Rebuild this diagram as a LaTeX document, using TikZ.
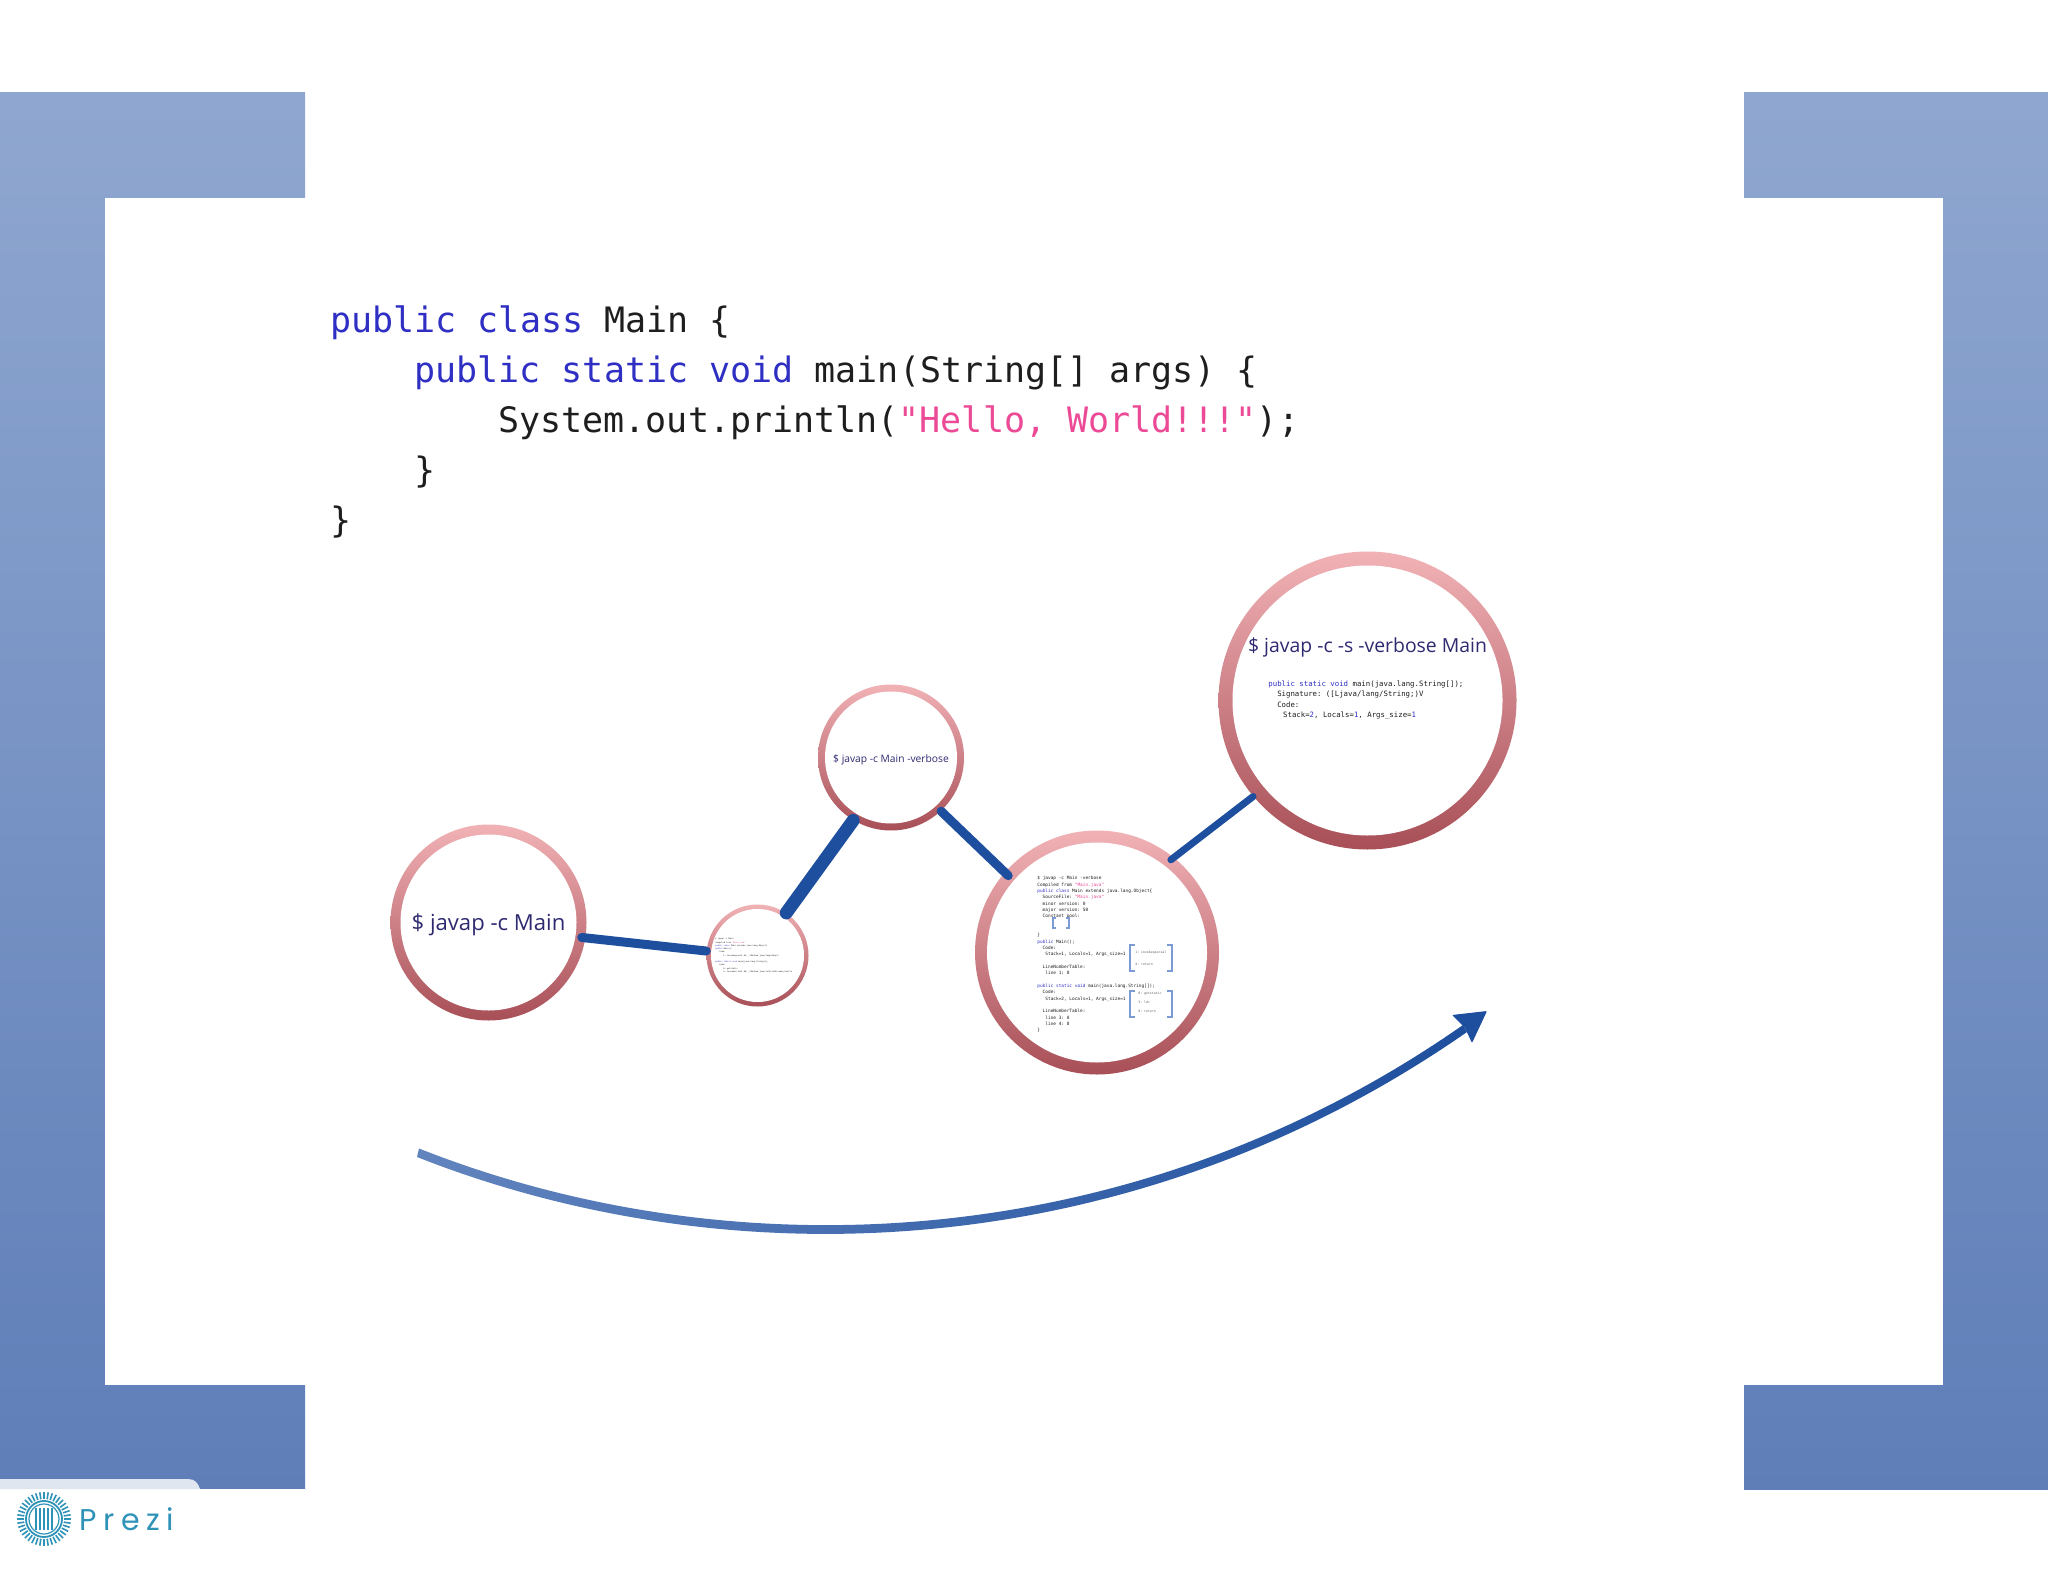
\documentclass[tikz,border=0pt]{standalone}
\usepackage{fontspec}
\setmainfont{Open Sans}
\setmonofont{DejaVu Sans Mono}
\newfontfamily\prezifont[LetterSpace=22]{Poppins}
\usetikzlibrary{calc}
\definecolor{kw}{HTML}{2F2FC4}
\definecolor{strpink}{HTML}{EC4A96}
\definecolor{cblack}{HTML}{1E1E1E}
\definecolor{title}{HTML}{2E2A70}
\definecolor{lnk}{HTML}{1E4F9E}
\definecolor{bracket}{HTML}{7B9BD5}
\definecolor{teal}{HTML}{2F92B8}
\definecolor{bandtop}{HTML}{8FA7D0}
\definecolor{bandbot}{HTML}{5F7EB8}
\definecolor{ringtop}{HTML}{F1B2B6}
\definecolor{ringbot}{HTML}{A84F57}
\definecolor{arrowstart}{HTML}{6284BE}
\definecolor{tabgrey}{HTML}{E0E6EF}
\newcommand{\ind}[1]{\hspace*{#1em}}
\newcommand{\kw}[1]{\textcolor{kw}{#1}}
\newcommand{\st}[1]{\textcolor{strpink}{#1}}
\tikzset{
  x=0.5pt,y=-0.5pt,
  band/.style={shade,top color=bandtop,bottom color=bandbot,draw=none},
  ringouter/.style={circle,inner sep=0pt,draw=none,shade,top color=ringtop,bottom color=ringbot},
  ringinner/.style={circle,inner sep=0pt,fill=white,draw=none},
  codeline/.style={anchor=base west,inner sep=0pt,text=cblack,font=\ttfamily\fontsize{17.5}{25}\selectfont},
  ctitle/.style={inner sep=0pt,text=title},
  tinycode/.style={anchor=north west,inner sep=0pt,align=left,text=cblack},
  link/.style={draw=lnk,line cap=round},
  brk/.style={draw=bracket,line width=1.2pt},
  tick/.style={draw=teal,line width=0.8pt},
  logoring/.style={draw=teal,line width=0.6pt}
}
\begin{document}
\begin{tikzpicture}
\useasboundingbox (0,0) rectangle (2048,1582);
\fill[white] (0,0) rectangle (2048,1582);
% frame
\path[band] (0,93) rectangle (305,1489);
\path[band] (1744,93) rectangle (2048,1489);
\fill[white] (105,198) rectangle (1943,1385);
% tab and logo
\fill[white] (0,1489) rectangle (305,1582);
\fill[tabgrey] (0,1479) -- (188,1479) .. controls (195,1479) and (198,1483) .. (200,1489) -- (0,1489) -- cycle;
\coordinate (logo) at (44,1519);
\foreach \a in {0,9,...,351} \draw[tick] ($(logo)+(\a:20)$) -- ($(logo)+(\a:27)$);
\draw[logoring,line width=0.9pt] (logo) circle[radius=18];
\draw[logoring] (logo) circle[radius=15];
\foreach \d in {-8,-4,0,4,8} \draw[logoring] ($(logo)+(\d,-11)$) -- ($(logo)+(\d,11)$);
\node[anchor=base west,inner sep=0pt,text=teal,font=\prezifont\fontsize{15}{18}\selectfont] (prezi) at (79,1530) {Prezi};
% code
\node[codeline] (l1) at (330,333) {\kw{public class} Main \{};
\node[codeline] (l2) at (414,383) {\kw{public static void} main(String[] args) \{};
\node[codeline] (l3) at (498,433) {System.out.println(\st{"Hello, World!!!"});};
\node[codeline] (l4) at (414,483) {\}};
\node[codeline] (l5) at (330,533) {\}};
% circles
\node[ringouter,minimum size=98pt] (c1o) at (488.5,922.5) {};
\node[ringinner,minimum size=88pt] (c1) at (488.5,922.5) {};
\node[ringouter,minimum size=51pt] (c2o) at (757.5,955.5) {};
\node[ringinner,minimum size=46.5pt] (c2) at (757.5,955.5) {};
\node[ringouter,minimum size=73pt] (c3o) at (891,757.5) {};
\node[ringinner,minimum size=66pt] (c3) at (891,757.5) {};
\node[ringouter,minimum size=122pt] (c4o) at (1097,952.5) {};
\node[ringinner,minimum size=110pt] (c4) at (1097,952.5) {};
\node[ringouter,minimum size=149pt] (c5o) at (1367.5,700.5) {};
\node[ringinner,minimum size=135pt] (c5) at (1367.5,700.5) {};
% connectors
\draw[link,line width=4.5pt,shorten <=-2pt] (c1o.-9) -- (c2o.175);
\draw[link,line width=6.5pt] (c2o.56) -- (c3o.-121);
\draw[link,line width=4.5pt,shorten >=-2.5pt] (c3o.-47) -- (c4o.139.6);
\draw[link,line width=3.5pt,shorten <=-2pt] (c4o.51) -- (c5o.-140);
% titles
\node[ctitle,font=\fontsize{11.05}{13}\selectfont] (t1) at (488.5,925) {\$ javap -c Main};
\node[ctitle,font=\fontsize{5.13}{7}\selectfont] (t3) at (891,760) {\$ javap -c Main -verbose};
\node[ctitle,font=\fontsize{9.7}{12}\selectfont] (t5) at (1367.5,647) {\$ javap -c -s -verbose Main};
% c5 code
\node[tinycode,font=\ttfamily\fontsize{3.68}{5.3}\selectfont] (t5code) at (1268,680) {%
\kw{public static void} main(java.lang.String[]);\\
\ind{1.2}Signature: ([Ljava/lang/String;)V\\
\ind{1.2}Code:\\
\ind{2}Stack=\kw{2}, Locals=\kw{1}, Args\_size=\kw{1}};
% c4 code
\node[tinycode,font=\ttfamily\fontsize{2.22}{3.17}\selectfont] (t4code) at (1037,876) {%
\$ javap -c Main -verbose\\
Compiled from \st{"Main.java"}\\
\kw{public class} Main extends java.lang.Object\{\\
\ind{1.2}SourceFile: \st{"Main.java"}\\
\ind{1.2}minor version: 0\\
\ind{1.2}major version: 50\\
\ind{1.2}Constant pool:\\
\strut\\
\strut\\
\}\\
\kw{public} Main();\\
\ind{1.2}Code:\\
\ind{1.8}Stack=1, Locals=1, Args\_size=1\\
\strut\\
\ind{1.2}LineNumberTable:\\
\ind{1.8}line 1: 0\\
\strut\\
\kw{public static void} main(java.lang.String[]);\\
\ind{1.2}Code:\\
\ind{1.8}Stack=2, Locals=1, Args\_size=1\\
\strut\\
\ind{1.2}LineNumberTable:\\
\ind{1.8}line 3: 0\\
\ind{1.8}line 4: 8\\
\}};
\node[tinycode,text=cblack!70,font=\ttfamily\fontsize{1.6}{6}\selectfont] (t4b1) at (1135,951) {1: invokespecial\\4: return};
\node[tinycode,text=cblack!70,font=\ttfamily\fontsize{1.6}{4.3}\selectfont] (t4b2) at (1138,992) {0: getstatic\\3: ldc\\8: return};
\draw[brk,line width=0.6pt] (1056,918) -- (1053,918) -- (1053,928) -- (1056,928);
\draw[brk,line width=0.6pt] (1066,918) -- (1069,918) -- (1069,928) -- (1066,928);
\draw[brk] (1135,945) -- (1130,945) -- (1130,971) -- (1135,971);
\draw[brk] (1167,945) -- (1172,945) -- (1172,971) -- (1167,971);
\draw[brk] (1135,991) -- (1130,991) -- (1130,1017) -- (1135,1017);
\draw[brk] (1167,991) -- (1172,991) -- (1172,1017) -- (1167,1017);
% c2 code
\node[tinycode,font=\ttfamily\fontsize{1}{1.62}\selectfont] (t2code) at (715,938) {%
\$ javap -c Main\\
Compiled from \st{"Main.java"}\\
\kw{public class} Main extends java.lang.Object\{\\
\kw{public} Main();\\
\ind{2}Code:\\
\ind{4}1: invokespecial \#1; //Method java/lang/Object\\
\strut\\
\kw{public static void} main(java.lang.String[]);\\
\ind{2}Code:\\
\ind{4}0: getstatic\\
\ind{4}5: invokevirtual \#4; //Method java/io/PrintStream.println};
% big arrow
\coordinate (tip) at (1487,1011);
\coordinate (hl) at (1452,1015);
\coordinate (hr) at (1472,1043);
\coordinate (hn) at (1465,1028);
\path[shade,left color=arrowstart,right color=lnk]
  (419,1148.5) .. controls (730,1271.5) and (1130,1257.5) .. (1463,1025)
  -- (1467,1032) .. controls (1130,1266.5) and (730,1280.5) .. (417,1157) -- cycle;
\fill[lnk,rounded corners=0.5pt] (tip) -- (hl) -- (hn) -- (hr) -- cycle;
\end{tikzpicture}
\end{document}
